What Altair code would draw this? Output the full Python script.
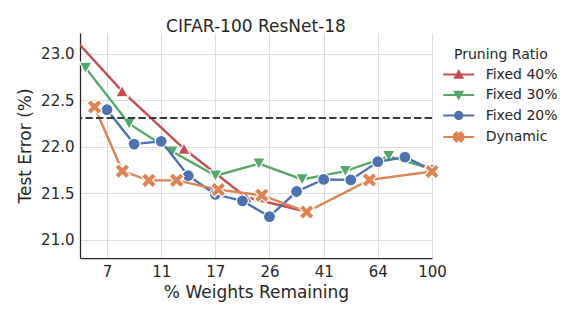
import altair as alt
import pandas as pd

# ---------------- data ----------------
series_names = ["Fixed 40%", "Fixed 30%", "Fixed 20%", "Dynamic"]
series_colors = ["#C44E52", "#55A868", "#4C72B0", "#DD8452"]

fixed40_x = [4.67, 7.78, 12.96, 21.6, 36.0]
fixed40_y = [23.33, 22.60, 21.98, 21.46, 21.30]

fixed30_x = [5.76, 8.24, 11.76, 16.81, 24.01, 34.3, 49.0, 70.0, 100.0]
fixed30_y = [22.85, 22.25, 21.95, 21.69, 21.82, 21.65, 21.74, 21.90, 21.76]

fixed20_x = [6.87, 8.59, 10.74, 13.42, 16.78, 20.97, 26.21, 32.77, 40.96, 51.2, 64.0, 80.0, 100.0]
fixed20_y = [22.40, 22.03, 22.06, 21.69, 21.49, 21.42, 21.25, 21.52, 21.65, 21.645, 21.84, 21.89, 21.75]

dynamic_x = [6.2, 7.8, 9.7, 12.2, 17.2, 24.6, 35.6, 59.7, 100.0]
dynamic_y = [22.43, 21.74, 21.64, 21.64, 21.54, 21.48, 21.30, 21.645, 21.735]

baseline_error = [22.31]

x_ticks = [6.87, 10.74, 16.78, 26.21, 40.96, 64.0, 100.0]
y_ticks = [21.0, 21.5, 22.0, 22.5, 23.0]
x_domain = [5.5, 100.0]
y_domain = [20.805, 23.225]

# ---------------- table ----------------
rows = []
for name, xs, ys in zip(series_names,
                        [fixed40_x, fixed30_x, fixed20_x, dynamic_x],
                        [fixed40_y, fixed30_y, fixed20_y, dynamic_y]):
    for xv, yv in zip(xs, ys):
        rows.append({"weights": xv, "error": yv, "series": name})
df = pd.DataFrame(rows)

# ---------------- marker shapes ----------------
def x_path(s):
    pts = [(0.5, -1), (1, -0.5), (0.5, 0), (1, 0.5), (0.5, 1), (0, 0.5),
           (-0.5, 1), (-1, 0.5), (-0.5, 0), (-1, -0.5), (-0.5, -1), (0, -0.5)]
    return "M" + "L".join(f"{px*s:.3f},{py*s:.3f}" for px, py in pts) + "Z"

def circ_path(r):
    return f"M{r},0A{r},{r},0,1,1,{-r},0A{r},{r},0,1,1,{r},0Z"

plot_markers = [
    "M0,-0.95L1.05,0.95L-1.05,0.95Z",
    "M0,0.95L1.05,-0.95L-1.05,-0.95Z",
    circ_path(1.0),
    x_path(1.25),
]
LEG_LINE = "M-3.1,0L3.1,0"
legend_markers = [
    LEG_LINE + "M0,-0.66L0.72,0.62L-0.72,0.62Z",
    LEG_LINE + "M0,0.66L0.72,-0.62L-0.72,-0.62Z",
    LEG_LINE + circ_path(0.72),
    LEG_LINE + x_path(0.9),
]

# ---------------- encodings ----------------
x_enc = alt.X("weights:Q",
              scale=alt.Scale(type="log", domain=x_domain, nice=False),
              axis=alt.Axis(values=x_ticks, format=".0f", title="% Weights Remaining",
                            labelFlush=False, labelOverlap=False,
                            labelPadding=6, titlePadding=5))
y_enc = alt.Y("error:Q",
              scale=alt.Scale(domain=y_domain, nice=False, zero=False),
              axis=alt.Axis(values=y_ticks, format=".1f", title="Test Error (%)",
                            labelPadding=6, titlePadding=6))
col_scale = alt.Scale(domain=series_names, range=series_colors)

leg = alt.Legend(title="Pruning Ratio", orient="none", legendX=374, legendY=14.5,
                 titleFontSize=14, labelFontSize=14, titleFontWeight="normal",
                 titleColor="#262626", labelColor="#262626", titleAnchor="start",
                 symbolSize=100, symbolStrokeWidth=2.2, symbolOffset=-2.3,
                 labelOffset=20, rowPadding=4.5, titlePadding=6, padding=0)

base = alt.Chart(df)

# legend-only layer (draws no marks; first so its legend settings win the merge)
legend_layer = base.transform_filter("false").mark_point(
    filled=True, opacity=1, size=100, strokeWidth=2.2
).encode(
    x=x_enc, y=y_enc,
    color=alt.Color("series:N", scale=col_scale, legend=leg),
    stroke=alt.Stroke("series:N", scale=col_scale, legend=leg),
    shape=alt.Shape("series:N", scale=alt.Scale(domain=series_names, range=legend_markers), legend=leg),
)

layers = [legend_layer]
for name, mpath in zip(series_names, plot_markers):
    sub = base.transform_filter(alt.datum.series == name)
    line = sub.mark_line(strokeWidth=2.4, clip=True, opacity=1).encode(
        x=x_enc, y=y_enc,
        color=alt.Color("series:N", scale=col_scale, legend=None))
    pts = sub.transform_filter(alt.datum.weights >= x_domain[0]).mark_point(
        filled=True, opacity=1, size=144, shape=mpath, stroke="white", strokeWidth=1.2
    ).encode(x=x_enc, y=y_enc,
             color=alt.Color("series:N", scale=col_scale, legend=None))
    layers += [line, pts]

rule = alt.Chart(pd.DataFrame({"error": baseline_error})).mark_rule(
    strokeDash=[7.4, 3.2], strokeWidth=2, color="#3a3a3a"
).encode(y=alt.Y("error:Q"))
layers.append(rule)

chart = alt.layer(*layers).properties(
    width=352, height=225,
    title=alt.TitleParams("CIFAR-100 ResNet-18", fontSize=17, fontWeight="normal",
                          color="#262626", anchor="middle", offset=-3),
    autosize=alt.AutoSizeParams(type="none"),
    padding={"left": 72, "top": 25, "right": 142, "bottom": 53},
).configure(font="DejaVu Sans").configure_view(stroke=None).configure_axis(
    domainColor="#262626", domainWidth=1.25, gridColor="#dddddd", gridWidth=1,
    labelColor="#262626", titleColor="#262626", labelFontSize=15, titleFontSize=17,
    titleFontWeight="normal", ticks=False, tickSize=0,
)

chart.save("out.html", embed_options={"renderer": "svg", "actions": False})
